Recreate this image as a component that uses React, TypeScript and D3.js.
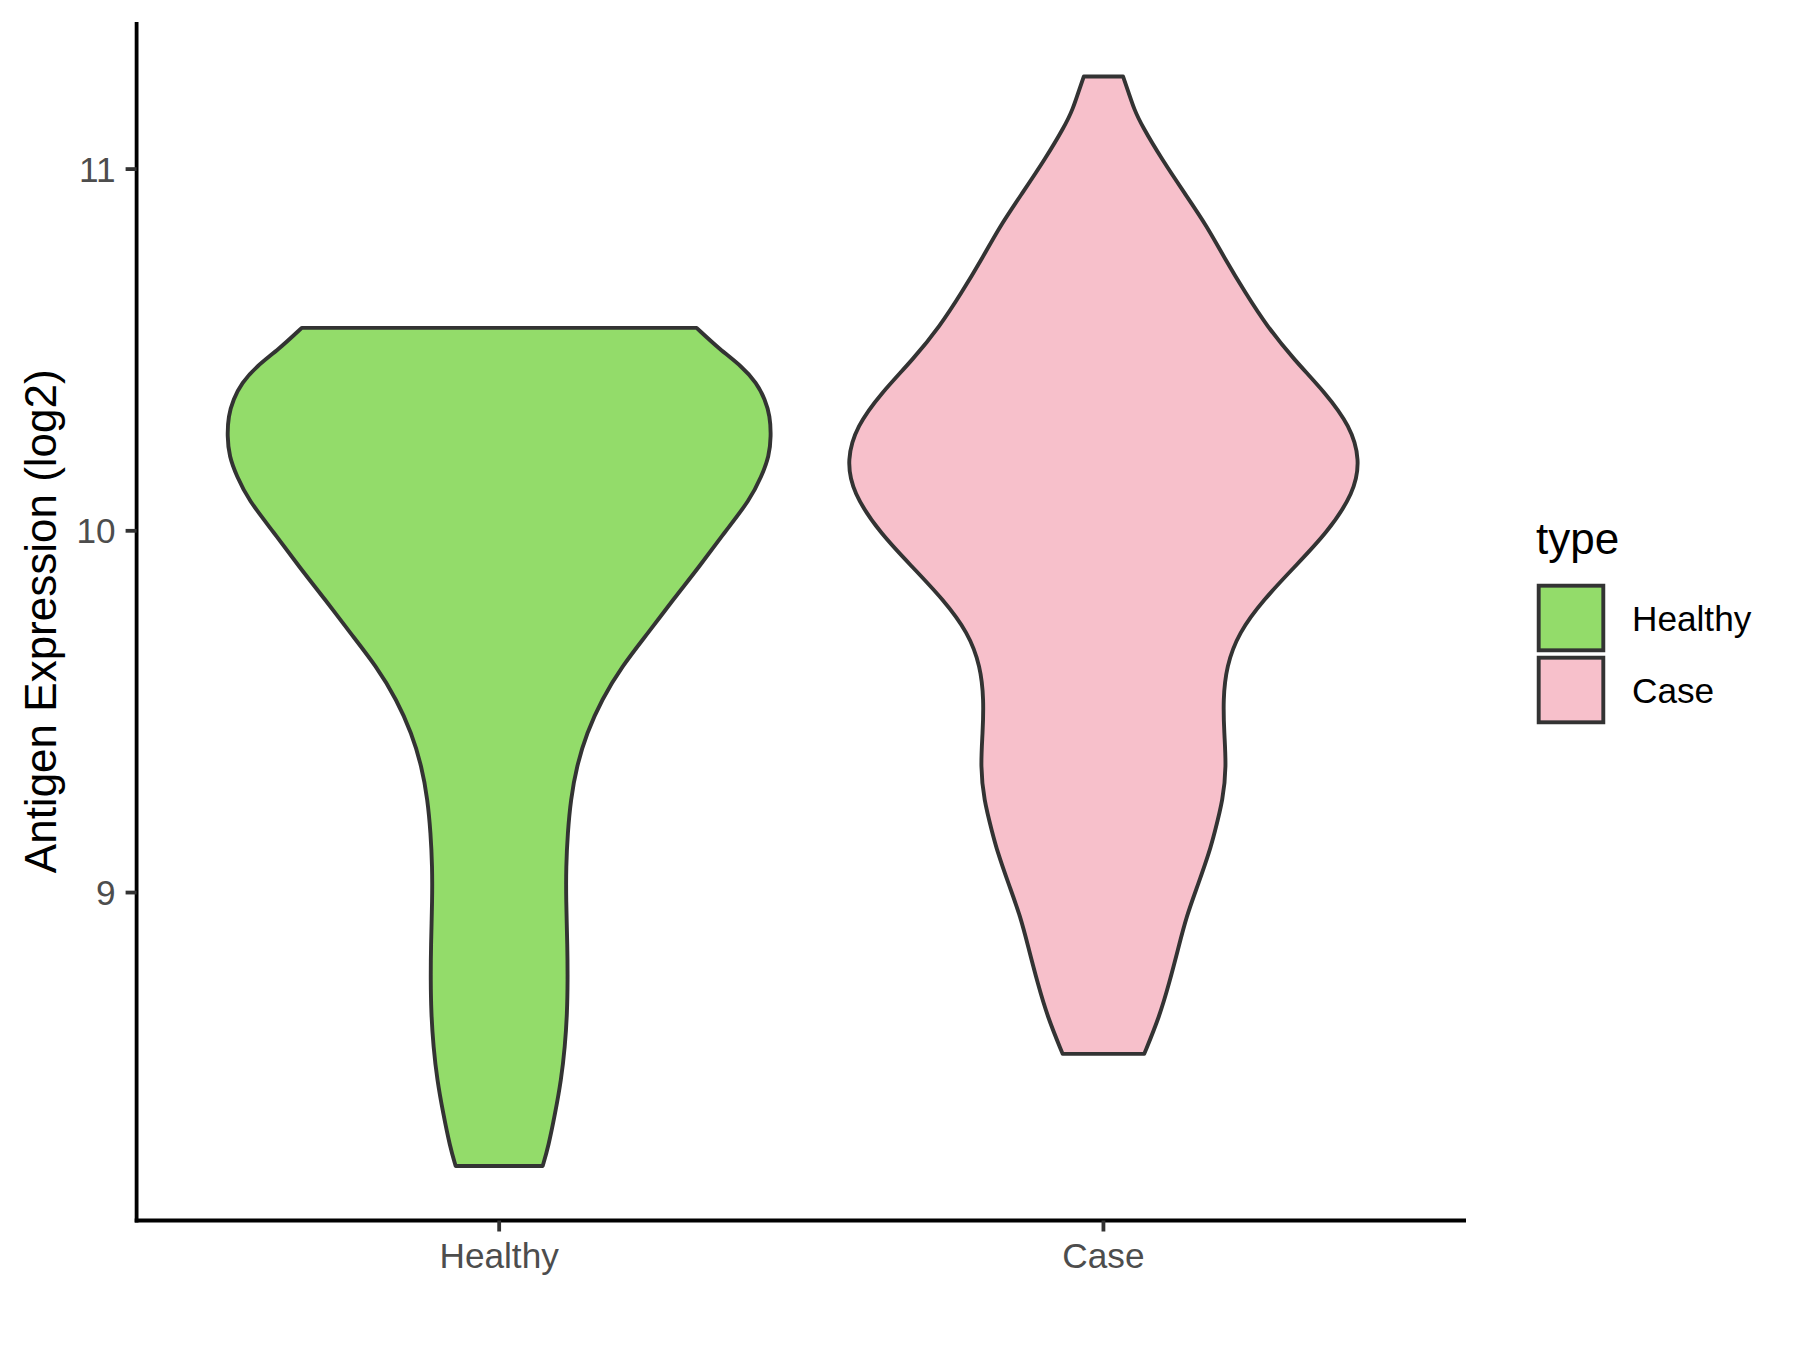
import React from "react";
import * as d3 from "d3";

const categories = ["Healthy", "Case"];
const fillColors = ["#93DC6A", "#F7C0CB"];

// Violin profiles: expression value (log2) and relative density width (1 = widest violin)
const healthyValues = [10.561, 10.501, 10.455, 10.409, 10.363, 10.317, 10.262, 10.206, 10.151, 10.086, 9.995, 9.902, 9.81, 9.718, 9.625, 9.533, 9.441, 9.349, 9.257, 9.164, 9.072, 8.98, 8.851, 8.759, 8.667, 8.574, 8.482, 8.39, 8.298, 8.244];
const healthyDensity = [0.726, 0.812, 0.892, 0.947, 0.978, 0.996, 1.0, 0.993, 0.965, 0.923, 0.828, 0.737, 0.64, 0.548, 0.451, 0.377, 0.322, 0.285, 0.263, 0.252, 0.246, 0.246, 0.251, 0.252, 0.25, 0.242, 0.228, 0.206, 0.181, 0.16];

const caseValues = [11.256, 11.211, 11.165, 11.119, 11.027, 10.935, 10.842, 10.75, 10.658, 10.566, 10.474, 10.382, 10.289, 10.197, 10.105, 9.994, 9.902, 9.81, 9.718, 9.625, 9.533, 9.441, 9.349, 9.257, 9.164, 9.118, 9.026, 8.934, 8.842, 8.75, 8.657, 8.554];
const caseDensity = [0.072, 0.093, 0.113, 0.142, 0.215, 0.297, 0.381, 0.448, 0.522, 0.601, 0.7, 0.816, 0.908, 0.944, 0.922, 0.822, 0.705, 0.589, 0.497, 0.452, 0.44, 0.444, 0.452, 0.44, 0.408, 0.392, 0.35, 0.305, 0.274, 0.242, 0.206, 0.15];

const yTicks = [9, 10, 11];
const yTitle = "Antigen Expression (log2)";
const legendTitle = "type";

const W = 1800;
const H = 1350;
const panel = { left: 136.6, right: 1466, top: 22, bottom: 1220.5 };
const FONT = "'Liberation Sans', Arial, Helvetica, sans-serif";
const LW = 3.9;
const AXW = 3.8;

export default function App() {
  const series = [
    { name: categories[0], values: healthyValues, density: healthyDensity, fill: fillColors[0] },
    { name: categories[1], values: caseValues, density: caseDensity, fill: fillColors[1] },
  ];
  const allVals = [...healthyValues, ...caseValues];
  const [vmin, vmax] = d3.extent(allVals) as [number, number];
  const pad = (vmax - vmin) * 0.05;
  const y = d3.scaleLinear().domain([vmin - pad, vmax + pad]).range([panel.bottom, panel.top]);
  const x = d3.scalePoint<string>().domain(categories).range([panel.left, panel.right]).padding(0.6);
  const step = x.step();
  const halfMax = 0.45 * step;

  const tickLen = 11;

  return (
    <svg width={W} height={H} style={{ position: "absolute", left: 0, top: 0, background: "#fff" }} fontFamily={FONT}>
      <rect x={0} y={0} width={W} height={H} fill="#fff" />
      {series.map((s) => {
        const cx = x(s.name) as number;
        const pts = s.values.map((v, i) => ({ v, w: s.density[i] }));
        const area = d3
          .area<{ v: number; w: number }>()
          .y((d) => y(d.v))
          .x0((d) => cx - d.w * halfMax)
          .x1((d) => cx + d.w * halfMax)
          .curve(d3.curveBasis);
        return (
          <path key={s.name} d={area(pts) || ""} fill={s.fill} stroke="#333333" strokeWidth={LW} strokeLinejoin="round" />
        );
      })}
      {/* axes */}
      <line x1={panel.left} x2={panel.left} y1={panel.top} y2={panel.bottom + AXW / 2} stroke="#000" strokeWidth={AXW} />
      <line x1={panel.left - AXW / 2} x2={panel.right} y1={panel.bottom} y2={panel.bottom} stroke="#000" strokeWidth={AXW} />
      {yTicks.map((t) => (
        <g key={t}>
          <line x1={panel.left - tickLen} x2={panel.left} y1={y(t)} y2={y(t)} stroke="#333333" strokeWidth={AXW} />
          <text x={panel.left - tickLen - 10} y={y(t)} dy="0.36em" textAnchor="end" fontSize={35.2} fill="#4D4D4D">
            {t}
          </text>
        </g>
      ))}
      {categories.map((c) => (
        <g key={c}>
          <line x1={x(c)} x2={x(c)} y1={panel.bottom} y2={panel.bottom + tickLen} stroke="#333333" strokeWidth={AXW} />
          <text x={x(c)} y={1267.5} textAnchor="middle" fontSize={35.2} fill="#4D4D4D">
            {c}
          </text>
        </g>
      ))}
      <text
        transform={`translate(55.5, ${(panel.top + panel.bottom) / 2}) rotate(-90)`}
        textAnchor="middle"
        fontSize={44}
        fill="#000"
      >
        {yTitle}
      </text>
      {/* legend */}
      <text x={1536} y={554} fontSize={44} fill="#000">
        {legendTitle}
      </text>
      {series.map((s, i) => {
        const ky = 585.7 + i * 72;
        return (
          <g key={s.name}>
            <rect x={1538.7} y={ky} width={64.6} height={64.6} fill={s.fill} stroke="#333333" strokeWidth={LW} />
            <text x={1632} y={ky + 32.3} dy="0.36em" fontSize={35.2} fill="#000">
              {s.name}
            </text>
          </g>
        );
      })}
    </svg>
  );
}
